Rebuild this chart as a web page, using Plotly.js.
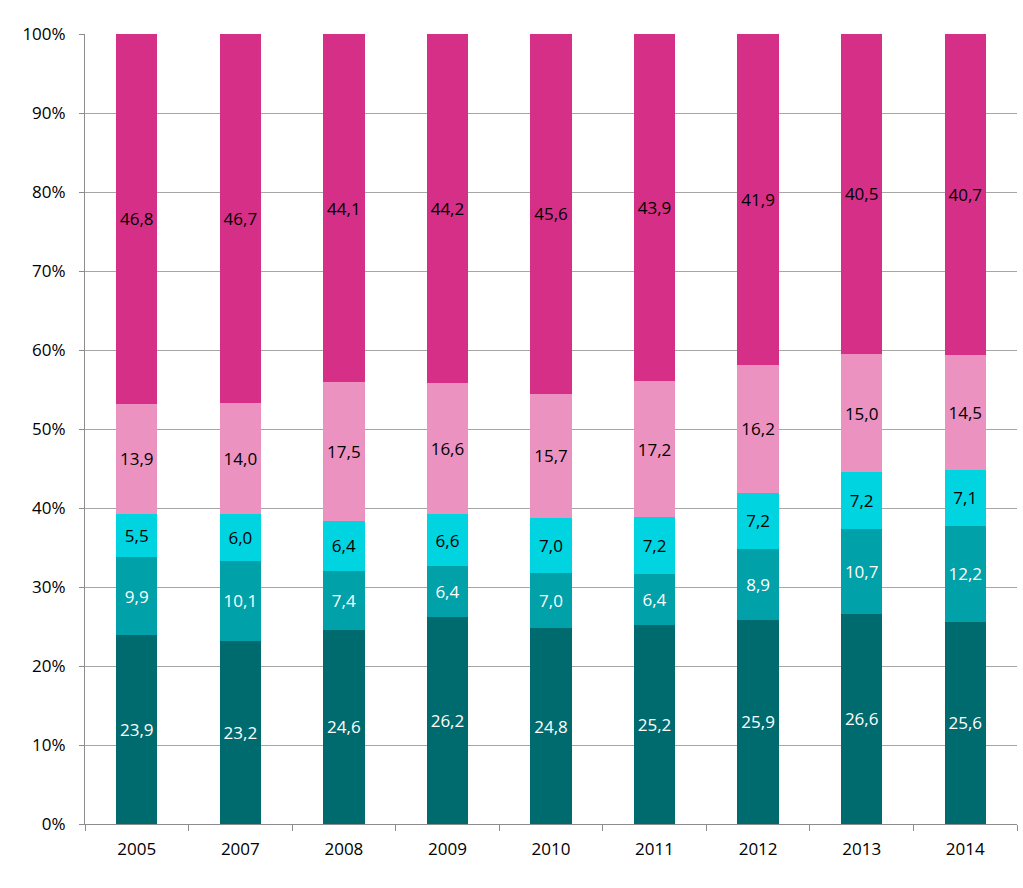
<!DOCTYPE html>
<html>
<head>
<meta charset="utf-8">
<script src="https://cdn.plot.ly/plotly-3.0.1.min.js"></script>
<style>html,body{margin:0;padding:0;background:#fff;}#chart{width:1023px;height:888px;}</style>
</head>
<body>
<div id="chart"></div>
<script>
const years = ['2005','2007','2008','2009','2010','2011','2012','2013','2014'];
const s1 = [23.9,23.2,24.6,26.2,24.8,25.2,25.9,26.6,25.6];
const s2 = [9.9,10.1,7.4,6.4,7.0,6.4,8.9,10.7,12.2];
const s3 = [5.5,6.0,6.4,6.6,7.0,7.2,7.2,7.2,7.1];
const s4 = [13.9,14.0,17.5,16.6,15.7,17.2,16.2,15.0,14.5];
const s5 = [46.8,46.7,44.1,44.2,45.6,43.9,41.9,40.5,40.7];

const series = [
  {v: s1, color: '#006B6F', txt: '#ffffff'},
  {v: s2, color: '#00A1A8', txt: '#ffffff'},
  {v: s3, color: '#00D4E0', txt: '#000000'},
  {v: s4, color: '#EB92C0', txt: '#000000'},
  {v: s5, color: '#D62F87', txt: '#000000'}
];
const fmt = v => v.toFixed(1).replace('.', ',');
const traces = series.map(s => ({
  type: 'bar',
  x: years,
  y: s.v,
  text: s.v.map(fmt),
  textposition: 'inside',
  insidetextanchor: 'middle',
  textangle: 0,
  texttemplate: '%{text}',
  textfont: {family: 'Open Sans, Liberation Sans, sans-serif', size: 17, color: s.txt},
  constraintext: 'none',
  marker: {color: s.color, line: {width: 0}},
  hoverinfo: 'skip',
  showlegend: false
}));

const layout = {
  width: 1023, height: 888,
  margin: {l: 85, r: 6, t: 34, b: 64},
  barmode: 'stack',
  barnorm: 'percent',
  bargap: 0.6,
  paper_bgcolor: '#fff',
  plot_bgcolor: '#fff',
  font: {family: 'Open Sans, Liberation Sans, sans-serif', size: 17, color: '#000'},
  xaxis: {
    type: 'category',
    showline: true, linecolor: '#8c8c8c', linewidth: 1,
    ticks: 'outside', tickson: 'boundaries', ticklen: 6, tickcolor: '#8c8c8c',
    ticklabelstandoff: 10,
    showgrid: false,
    tickfont: {size: 17},
    automargin: false
  },
  yaxis: {
    range: [0, 100],
    dtick: 10,
    ticksuffix: '%',
    showline: true, linecolor: '#8c8c8c', linewidth: 1,
    ticks: 'outside', ticklen: 5, tickcolor: '#8c8c8c',
    ticklabelstandoff: 10,
    showgrid: true, gridcolor: '#a6a6a6', gridwidth: 1,
    zeroline: false,
    tickfont: {size: 17},
    automargin: false
  }
};
Plotly.newPlot('chart', traces, layout, {displayModeBar: false, staticPlot: true});
</script>
</body>
</html>
